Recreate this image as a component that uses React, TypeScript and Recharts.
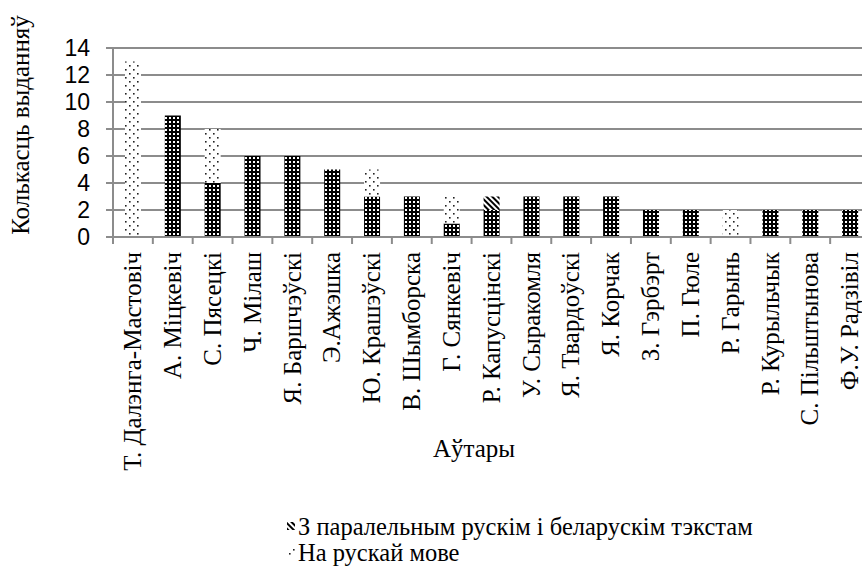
import React from "react";
import { BarChart, Bar, XAxis, YAxis, CartesianGrid } from "recharts";

const authors = [
  "Т. Далэнга-Мастовіч",
  "А. Міцкевіч",
  "С. Пясецкі",
  "Ч. Мілаш",
  "Я. Баршчэўскі",
  "Э.Ажэшка",
  "Ю. Крашэўскі",
  "В. Шымборска",
  "Г. Сянкевіч",
  "Р. Капусцінскі",
  "У. Сыракомля",
  "Я. Твардоўскі",
  "Я. Корчак",
  "З. Гэрбэрт",
  "П. Гюле",
  "Р. Гарынь",
  "Р. Курыльчык",
  "С. Пільштынова",
  "Ф.У. Радзівіл",
];
const belarusian = [0, 9, 4, 6, 6, 5, 3, 3, 1, 2, 3, 3, 3, 2, 2, 0, 2, 2, 2];
const parallel = [0, 0, 0, 0, 0, 0, 0, 0, 0, 1, 0, 0, 0, 0, 0, 0, 0, 0, 0];
const russian = [13, 0, 4, 0, 0, 0, 2, 0, 2, 0, 0, 0, 0, 0, 0, 2, 0, 0, 0];
const yTicks = [0, 2, 4, 6, 8, 10, 12, 14];

const data = authors.map((name, i) => ({
  name,
  bel: belarusian[i],
  par: parallel[i],
  rus: russian[i],
}));

const SERIF = "'Liberation Serif', 'Times New Roman', serif";
const SANS = "'Liberation Sans', Arial, sans-serif";
const GRID = "#8c8c8c";

function XTick({ x, y, payload }: any) {
  // tick marks sit between categories, like Excel
  const half = payload && payload.offset ? payload.offset : 19.9;
  return (
    <g>
      <line x1={x - half} x2={x - half} y1={y} y2={y + 7} stroke={GRID} strokeWidth={2} />
      <text
        transform={`translate(${x}, ${y + 15}) rotate(-90)`}
        textAnchor="end"
        dy="0.33em"
        fontFamily={SERIF}
        fontSize={25}
        fill="#000"
      >
        {payload.value}
      </text>
    </g>
  );
}

function Patterns() {
  return (
    <defs>
      <pattern id="pDark" patternUnits="userSpaceOnUse" width="4" height="4">
        <rect width="4" height="4" fill="#000" />
        <rect x="1" y="1" width="2" height="2" fill="#fff" />
      </pattern>
      <pattern id="pDots" patternUnits="userSpaceOnUse" width="8" height="8">
        <rect width="8" height="8" fill="#fff" />
        <rect x="1" y="1" width="1.6" height="1.6" fill="#222" />
        <rect x="5" y="5" width="1.6" height="1.6" fill="#222" />
      </pattern>
      <pattern id="pStripe" patternUnits="userSpaceOnUse" width="4" height="4" patternTransform="rotate(-45)">
        <rect width="4" height="4" fill="#fff" />
        <rect width="2" height="4" fill="#000" />
      </pattern>
    </defs>
  );
}

export default function App() {
  return (
    <div
      style={{
        position: "fixed",
        left: 0,
        top: 0,
        width: 862,
        height: 569,
        overflow: "hidden",
        background: "#fff",
      }}
    >
      <BarChart
        width={870}
        height={569}
        data={data}
        margin={{ top: 48, right: 0, left: 0, bottom: 0 }}
        barSize={16}
      >
        <Patterns />
        <CartesianGrid vertical={false} stroke={GRID} strokeWidth={2} />
        <XAxis
          dataKey="name"
          interval={0}
          height={332}
          tickSize={0}
          tickMargin={0}
          tickLine={false}
          axisLine={{ stroke: GRID, strokeWidth: 2 }}
          tick={<XTick />}
        />
        <YAxis
          width={113}
          domain={[0, 14]}
          ticks={yTicks}
          interval={0}
          tickSize={7}
          tickMargin={16}
          axisLine={{ stroke: GRID, strokeWidth: 2 }}
          tickLine={{ stroke: GRID, strokeWidth: 2 }}
          tick={{ fontFamily: SANS, fontSize: 23, fill: "#000" }}
        />
        <Bar dataKey="bel" stackId="a" fill="url(#pDark)" isAnimationActive={false} name="На беларускай мове" />
        <Bar dataKey="par" stackId="a" fill="url(#pStripe)" isAnimationActive={false} name="З паралельным рускім і беларускім тэкстам" />
        <Bar dataKey="rus" stackId="a" fill="url(#pDots)" isAnimationActive={false} name="На рускай мове" />
      </BarChart>
      <svg
        width={862}
        height={569}
        style={{ position: "absolute", left: 0, top: 0, pointerEvents: "none" }}
      >
        <text
          transform="translate(29, 125) rotate(-90)"
          textAnchor="middle"
          fontFamily={SERIF}
          fontSize={25}
          fill="#000"
        >
          Колькасць выданняў
        </text>
        <text x={474} y={457} textAnchor="middle" fontFamily={SERIF} fontSize={25} fill="#000">
          Аўтары
        </text>
        <rect x={287} y={522} width={8} height={8} fill="url(#pStripe)" />
        <text x={298} y={535} fontFamily={SERIF} fontSize={24.5} fill="#000">
          З паралельным рускім і беларускім тэкстам
        </text>
        <rect x={287} y={547} width={8} height={8} fill="url(#pDots)" />
        <text x={298} y={561} fontFamily={SERIF} fontSize={24.5} fill="#000">
          На рускай мове
        </text>
      </svg>
    </div>
  );
}
